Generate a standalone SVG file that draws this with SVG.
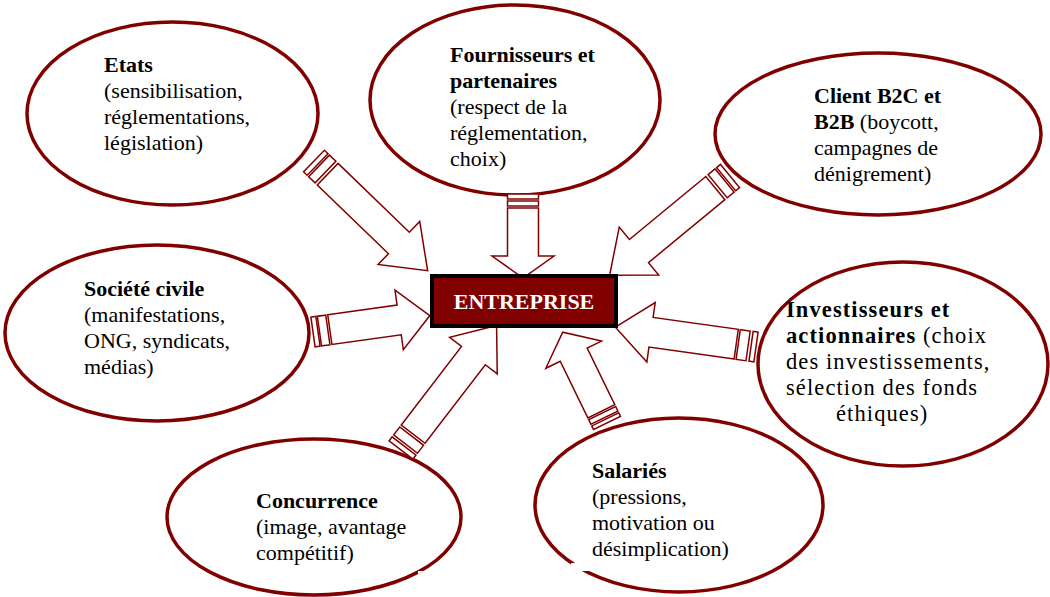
<svg xmlns="http://www.w3.org/2000/svg" width="1050" height="597" viewBox="0 0 1050 597">
<style>
.ell{fill:#fff;stroke:#800000;stroke-width:3.5}
.t{font-family:"Liberation Serif","Times New Roman",serif;font-size:22px;fill:#000}
.big{font-size:22.5px;letter-spacing:1.1px}
.b{font-weight:bold}
.arr{fill:#fff;stroke:#800000;stroke-width:1.5;stroke-linejoin:miter}
.patch{fill:#fff;stroke:none}
</style>
<rect width="1050" height="597" fill="#fff"/>
<g id="etats">
<ellipse class="ell" cx="172.5" cy="113.5" rx="145.5" ry="91.5"/>
<text class="t"><tspan class="b" x="104" y="72">Etats</tspan><tspan x="104" y="98">(sensibilisation,</tspan><tspan x="104" y="124">réglementations,</tspan><tspan x="104" y="150">législation)</tspan></text>
</g>
<g id="fournisseurs">
<ellipse class="ell" cx="515" cy="100" rx="145" ry="95"/>
<text class="t"><tspan class="b" x="450" y="62">Fournisseurs et</tspan><tspan class="b" x="450" y="88">partenaires</tspan><tspan x="450" y="114">(respect de la</tspan><tspan x="450" y="140">réglementation,</tspan><tspan x="450" y="166">choix)</tspan></text>
</g>
<g id="client">
<ellipse class="ell" cx="878" cy="134" rx="163" ry="81"/>
<text class="t"><tspan class="b" x="814" y="103">Client B2C et</tspan><tspan x="814" y="129"><tspan class="b">B2B</tspan> (boycott,</tspan><tspan x="814" y="155">campagnes de</tspan><tspan x="814" y="181">dénigrement)</tspan></text>
</g>
<g id="societe">
<ellipse class="ell" cx="157" cy="333" rx="152" ry="88"/>
<text class="t"><tspan class="b" x="84" y="296">Société civile</tspan><tspan x="84" y="322">(manifestations,</tspan><tspan x="84" y="348">ONG, syndicats,</tspan><tspan x="84" y="374">médias)</tspan></text>
</g>
<g id="investisseurs">
<ellipse class="ell" cx="903" cy="364" rx="145" ry="102"/>
<text class="t big"><tspan class="b" x="786" y="317">Investisseurs et</tspan><tspan x="786" y="343"><tspan class="b">actionnaires</tspan> (choix</tspan><tspan x="786" y="369">des investissements,</tspan><tspan x="786" y="395">sélection des fonds</tspan><tspan x="836" y="421">éthiques)</tspan></text>
</g>
<g id="concurrence">
<ellipse class="ell" cx="314" cy="517" rx="147" ry="78"/>
<rect class="patch" x="418" y="571" width="46" height="10"/>
<text class="t"><tspan class="b" x="256" y="508">Concurrence</tspan><tspan x="256" y="534">(image, avantage</tspan><tspan x="256" y="560">compétitif)</tspan></text>
</g>
<g id="salaries">
<ellipse class="ell" cx="679" cy="505" rx="144" ry="87"/>
<rect class="patch" x="571" y="563" width="188" height="8"/>
<text class="t"><tspan class="b" x="592" y="478">Salariés</tspan><tspan x="592" y="504">(pressions,</tspan><tspan x="592" y="530">motivation ou</tspan><tspan x="592" y="556">désimplication)</tspan></text>
</g>
<g id="connectors">
<g transform="translate(314,161) rotate(44)">
<rect class="arr" x="0" y="-15" width="5" height="30"/><rect class="arr" x="7" y="-15" width="9" height="30"/>
<path class="arr" d="M19,-15 H118 V-30 L158,0 L118,30 V15 H19 Z"/>
</g>
<g transform="translate(523,194) rotate(90)">
<rect class="arr" x="0" y="-15.5" width="5" height="31"/><rect class="arr" x="7" y="-15.5" width="5" height="31"/>
<path class="arr" d="M14,-15.5 H62 V-31 L84,0 L62,31 V15.5 H14 Z"/>
</g>
<g transform="translate(730,176) rotate(140.5)">
<rect class="arr" x="0" y="-15" width="5" height="30"/><rect class="arr" x="7" y="-15" width="9" height="30"/>
<path class="arr" d="M19,-15 H118 V-31 L156,0 L118,31 V15 H19 Z"/>
</g>
<g transform="translate(313,332) rotate(-8)">
<rect class="arr" x="0" y="-15" width="5" height="30"/><rect class="arr" x="6.5" y="-15" width="8.5" height="30"/>
<path class="arr" d="M17,-15 H87 V-30 L118,0 L87,30 V15 H17 Z"/>
</g>
<g transform="translate(756,347) rotate(188)">
<rect class="arr" x="0" y="-15" width="5" height="30"/><rect class="arr" x="8" y="-15" width="10" height="30"/>
<path class="arr" d="M20,-15 H106 V-30 L142,0 L106,30 V15 H20 Z"/>
</g>
<g transform="translate(401,450) rotate(-52.5)">
<rect class="arr" x="0" y="-15" width="5" height="30"/><rect class="arr" x="7.5" y="-15" width="10" height="30"/>
<path class="arr" d="M20,-15 H119 V-30 L157,0 L119,30 V15 H20 Z"/>
</g>
<g transform="translate(607,423) rotate(-116)">
<rect class="arr" x="0" y="-15" width="4" height="30"/><rect class="arr" x="6" y="-15" width="5" height="30"/>
<path class="arr" d="M13,-15 H76 V-31 L101,0 L76,31 V15 H13 Z"/>
</g>
</g>
<g id="entreprise">
<rect x="432" y="276" width="184" height="50" fill="#800000" stroke="#000" stroke-width="4"/>
<text x="524" y="309" text-anchor="middle" font-family="Liberation Serif, Times New Roman, serif" font-size="22" font-weight="bold" fill="#fff">ENTREPRISE</text>
</g>
</svg>
